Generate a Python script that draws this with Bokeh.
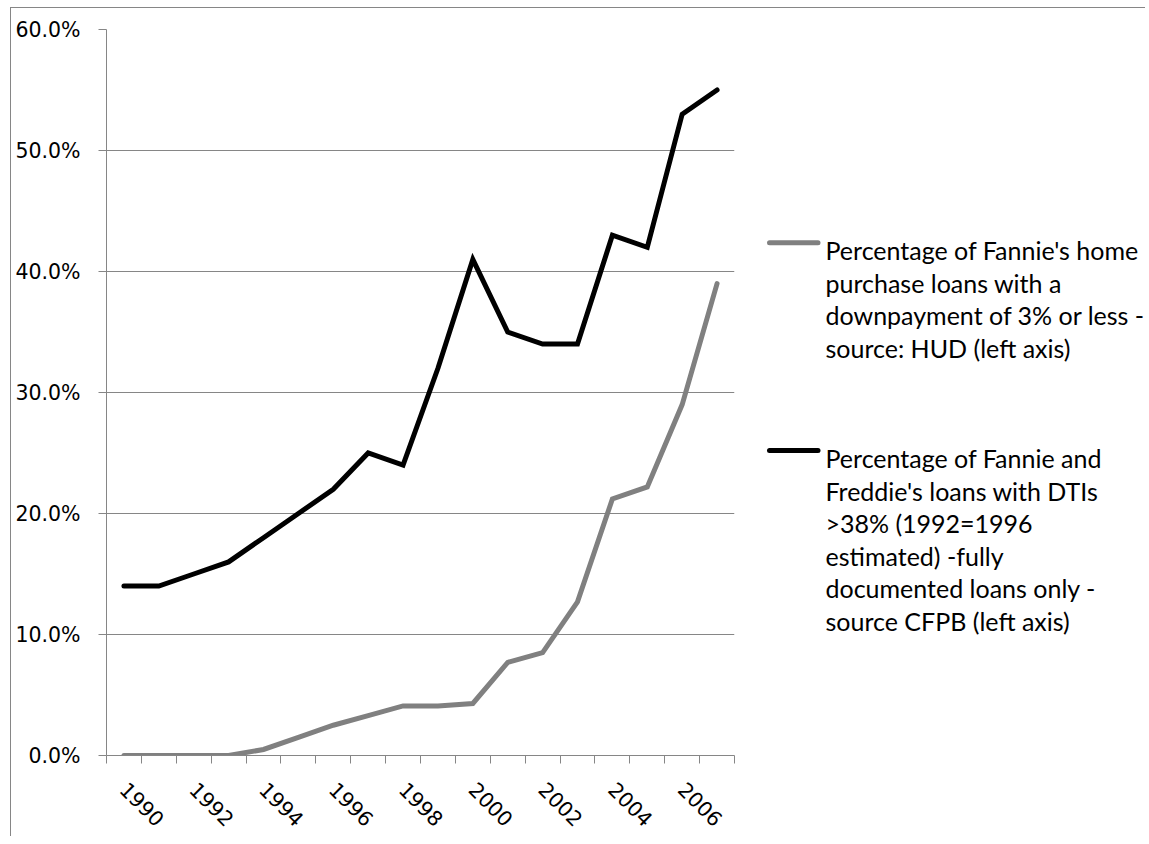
import math
from bokeh.plotting import figure
from bokeh.layouts import row
from bokeh.models import (Range1d, FixedTicker, PrintfTickFormatter,
                          CustomJSTickFormatter)
from bokeh.core.properties import value
from bokeh.embed import file_html
from bokeh.resources import INLINE

# ---------------- data ----------------
years = list(range(1990, 2008))
hud_pct = [0, 0, 0, 0, 0.5, 1.5, 2.5, 3.3, 4.1, 4.1, 4.3, 7.7, 8.5, 12.7, 21.2, 22.2, 29.0, 39.0]
cfpb_pct = [14, 14, 15, 16, 18, 20, 22, 25, 24, 32, 41, 35, 34, 34, 43, 42, 53, 55]
y_ticks = [0, 10, 20, 30, 40, 50, 60]
label_years = years[::2]
legend_hud = ["Percentage of Fannie's home",
              "purchase loans with a",
              "downpayment of 3% or less -",
              "source: HUD (left axis)"]
legend_cfpb = ["Percentage of Fannie and",
               "Freddie's loans with DTIs",
               ">38% (1992=1996",
               "estimated) -fully",
               "documented loans only -",
               "source CFPB (left axis)"]

HUD_COLOR = "#808080"
CFPB_COLOR = "#000000"
AXIS_COLOR = "#868686"
LINE_W = 5

# page geometry (pixels)
ORIGIN_X, ORIGIN_Y = 11, 8          # where the row content starts (after margin + border)
FRAME_L, FRAME_T, FRAME_R, FRAME_B = 106, 29, 734, 756
CHART_W = 749
H = 828
BORDER_TOP = FRAME_T - ORIGIN_Y
BORDER_BOTTOM = ORIGIN_Y + H - FRAME_B

# ---------------- chart ----------------
p = figure(width=CHART_W, height=H, output_backend="svg", toolbar_location=None,
           x_range=Range1d(years[0] - 0.5, years[-1] + 0.5),
           y_range=Range1d(y_ticks[0], y_ticks[-1]),
           min_border_left=FRAME_L - ORIGIN_X,
           min_border_right=ORIGIN_X + CHART_W - FRAME_R,
           min_border_top=BORDER_TOP,
           min_border_bottom=BORDER_BOTTOM)
p.outline_line_color = None
p.background_fill_color = "white"
p.border_fill_color = "white"

p.line(years, hud_pct, line_color=HUD_COLOR, line_width=LINE_W,
       line_join="miter", line_cap="round")
p.line(years, cfpb_pct, line_color=CFPB_COLOR, line_width=LINE_W,
       line_join="miter", line_cap="round")

xa = p.xaxis[0]
xa.ticker = FixedTicker(ticks=label_years,
                        minor_ticks=[y - 0.5 for y in years] + [years[-1] + 0.5])
xa.formatter = CustomJSTickFormatter(code="return String(Math.round(tick));")
xa.major_tick_out = 0
xa.major_tick_in = 0
xa.major_tick_line_color = None
xa.minor_tick_out = 8
xa.minor_tick_in = 0
xa.minor_tick_line_color = AXIS_COLOR
xa.axis_line_color = AXIS_COLOR
xa.major_label_orientation = -math.pi / 4
xa.major_label_standoff = 22
xa.major_label_text_font = "DejaVu Sans"
xa.major_label_text_font_size = "20.5px"
xa.major_label_text_color = "black"

ya = p.yaxis[0]
ya.ticker = FixedTicker(ticks=y_ticks)
ya.formatter = PrintfTickFormatter(format="%.1f%%")
ya.major_tick_out = 8
ya.major_tick_in = 0
ya.major_tick_line_color = AXIS_COLOR
ya.minor_tick_line_color = None
ya.axis_line_color = AXIS_COLOR
ya.major_label_standoff = 18
ya.major_label_text_font = "DejaVu Sans"
ya.major_label_text_font_size = "20.5px"
ya.major_label_text_color = "black"

p.xgrid.visible = False
p.ygrid.ticker = FixedTicker(ticks=y_ticks)
p.ygrid.grid_line_color = AXIS_COLOR
p.ygrid.grid_line_width = 1

# ---------------- legend panel (data units == page pixels) ----------------
LEG_X0 = ORIGIN_X + CHART_W            # page x of legend panel
LEG_W = 385
lg = figure(width=LEG_W, height=H, output_backend="svg", toolbar_location=None,
            x_range=Range1d(LEG_X0, LEG_X0 + LEG_W),
            y_range=Range1d(FRAME_B, FRAME_T),
            x_axis_type=None, y_axis_type=None,
            min_border_left=0, min_border_right=0,
            min_border_top=BORDER_TOP, min_border_bottom=BORDER_BOTTOM)
lg.outline_line_color = None
lg.xgrid.visible = False
lg.ygrid.visible = False
lg.background_fill_color = "white"
lg.border_fill_color = "white"

LINE_SPACING = 32.6


def add_entry(lines, color, swatch_y, first_baseline):
    lg.line([769, 817.5], [swatch_y, swatch_y],
            line_color=color, line_width=LINE_W, line_cap="round")
    lg.text(x=[825] * len(lines),
            y=[first_baseline + k * LINE_SPACING for k in range(len(lines))],
            text=lines, text_font=value("Lato"), text_font_size="25px",
            text_color="black", text_align="left", text_baseline="alphabetic")


add_entry(legend_hud, HUD_COLOR, 242.5, 250)
add_entry(legend_cfpb, CFPB_COLOR, 450.7, 458.3)

layout = row(p, lg, spacing=0, margin=(7, 0, 0, 10),
             styles={"border-top": f"1px solid {AXIS_COLOR}",
                     "border-left": f"1px solid {AXIS_COLOR}"})

open("out.html", "w").write(file_html(layout, INLINE))
